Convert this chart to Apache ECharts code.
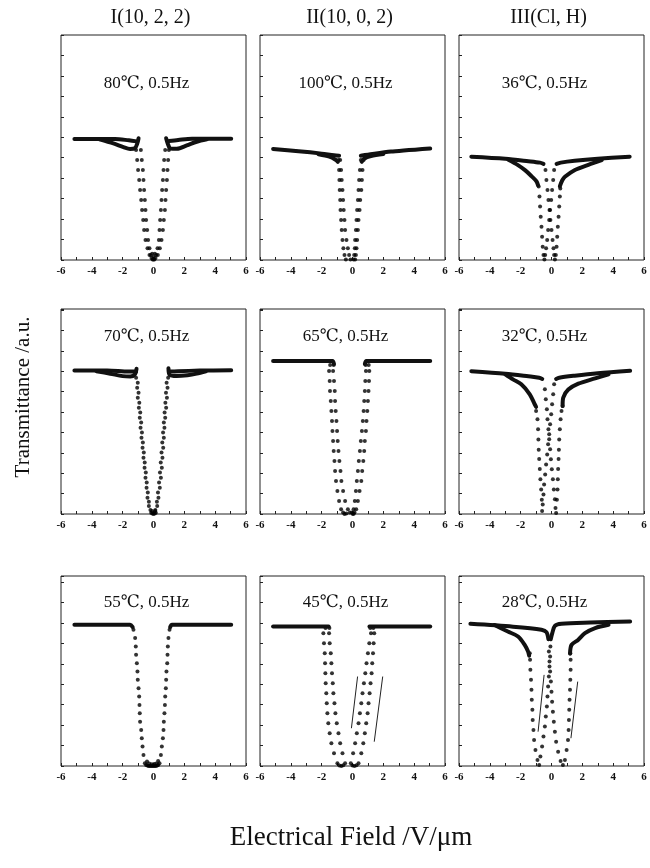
<!DOCTYPE html>
<html>
<head>
<meta charset="utf-8">
<script src="https://cdn.jsdelivr.net/npm/echarts@6/dist/echarts.min.js"></script>
<style>
html, body { margin: 0; padding: 0; background: #fff; }
#chart { width: 650px; height: 868px; }
</style>
</head>
<body>
<div id="chart"></div>
<script>
// Electro-optic switching loops: transmittance vs applied field, 0.5 Hz drive.
const fieldTicks = [-6, -4, -2, 0, 2, 4, 6];
const compoundTitles = ['I(10, 2, 2)', 'II(10, 0, 2)', 'III(Cl, H)'];
const panelConditions = [
  '80℃, 0.5Hz', '100℃, 0.5Hz', '36℃, 0.5Hz',
  '70℃, 0.5Hz', '65℃, 0.5Hz', '32℃, 0.5Hz',
  '55℃, 0.5Hz', '45℃, 0.5Hz', '28℃, 0.5Hz'
];
const xTitle = 'Electrical Field /V/μm';
const yTitle = 'Transmittance /a.u.';

// Each panel: saturated branches (dense, drawn as solid bands) and the
// switching region (sparse samples, drawn as dots). [field V/μm, transmittance a.u.]

// I(10,2,2) at 80 ℃
const I80_bands = [
  [[-5.13,5.92],[-2.5,5.92],[-1.6,5.85],[-1.1,5.8]],
  [[-3.5,5.9],[-2.6,5.7],[-1.95,5.52],[-1.52,5.43],[-1.2,5.47],[-1.05,5.7],[-0.97,5.95]],
  [[0.82,5.95],[0.92,5.7],[1.1,5.45],[1.52,5.44],[2.16,5.6],[2.8,5.78],[3.46,5.9]],
  [[1.0,5.82],[1.6,5.87],[2.5,5.93],[5.04,5.93]]
];
const I80_dots = [
  [-1.13,5.38],[-1.06,4.89],[-1.00,4.40],[-0.93,3.91],[-0.87,3.42],[-0.80,2.93],[-0.74,2.44],[-0.67,1.96],[-0.61,1.47],[-0.52,0.98],[-0.39,0.57],[-0.26,0.24],
  [-0.82,5.38],[-0.76,4.89],[-0.69,4.40],[-0.65,3.91],[-0.61,3.42],[-0.56,2.93],[-0.52,2.44],[-0.48,1.96],[-0.41,1.47],[-0.35,0.98],[-0.26,0.57],[-0.17,0.24],
  [-0.13,0.10],[-0.06,0.03],[0.00,0.02],[0.06,0.03],[0.13,0.10],[-0.09,0.30],[0.09,0.30],[0.00,0.15],
  [0.76,5.38],[0.69,4.89],[0.65,4.40],[0.61,3.91],[0.56,3.42],[0.52,2.93],[0.48,2.44],[0.43,1.96],[0.39,1.47],[0.35,0.98],[0.26,0.57],[0.17,0.24],
  [1.00,5.38],[0.95,4.89],[0.91,4.40],[0.87,3.91],[0.82,3.42],[0.78,2.93],[0.74,2.44],[0.67,1.96],[0.61,1.47],[0.52,0.98],[0.41,0.57],[0.28,0.24]
];

// II(10,0,2) at 100 ℃
const II100_bands = [
  [[-5.15,5.43],[-3.5,5.32],[-2.0,5.2],[-1.2,5.12],[-0.87,5.1]],
  [[-2.2,5.17],[-1.5,5.05],[-1.1,4.9],[-0.95,4.8]],
  [[0.6,4.8],[0.75,4.95],[1.2,5.08],[2.0,5.18]],
  [[0.54,5.1],[1.0,5.15],[2.5,5.3],[5.04,5.45]]
];
const II100_dots = [
  [-0.91,4.89],[-0.87,4.40],[-0.85,3.91],[-0.83,3.42],[-0.80,2.93],[-0.78,2.44],[-0.74,1.96],[-0.70,1.47],[-0.65,0.98],[-0.59,0.57],[-0.52,0.24],[-0.43,0.03],
  [-0.80,4.89],[-0.74,4.40],[-0.70,3.91],[-0.65,3.42],[-0.61,2.93],[-0.57,2.44],[-0.52,1.96],[-0.48,1.47],[-0.39,0.98],[-0.30,0.57],[-0.22,0.24],[-0.13,0.03],
  [0.54,4.89],[0.48,4.40],[0.43,3.91],[0.39,3.42],[0.35,2.93],[0.30,2.44],[0.26,1.96],[0.22,1.47],[0.17,0.98],[0.15,0.57],[0.11,0.24],[0.07,0.03],
  [0.72,4.89],[0.65,4.40],[0.61,3.91],[0.57,3.42],[0.50,2.93],[0.46,2.44],[0.39,1.96],[0.35,1.47],[0.30,0.98],[0.26,0.57],[0.22,0.24],[0.17,0.03]
];

// III(Cl,H) at 36 ℃
const III36_bands = [
  [[-5.2,5.05],[-3.0,4.95],[-1.5,4.83],[-0.75,4.76],[-0.52,4.7]],
  [[-2.8,4.9],[-2.2,4.65],[-1.7,4.38],[-1.3,4.1],[-0.98,3.85],[-0.87,3.65]],
  [[0.54,3.6],[0.7,3.9],[0.87,4.07],[1.52,4.4],[2.39,4.65],[3.26,4.88]],
  [[0.33,4.7],[0.6,4.76],[1.5,4.85],[3.0,4.95],[5.07,5.05]]
];
const III36_dots = [
  [0.17,4.40],[0.11,3.91],[0.04,3.42],[-0.02,2.93],[-0.09,2.44],[-0.15,1.96],[-0.22,1.47],[-0.28,0.98],[-0.35,0.57],[-0.41,0.24],[-0.46,0.03],
  [-0.52,0.24],[-0.57,0.65],[-0.61,1.14],[-0.65,1.63],[-0.70,2.12],[-0.74,2.61],[-0.78,3.10],[-0.83,3.59],
  [-0.39,4.40],[-0.33,3.91],[-0.26,3.42],[-0.20,2.93],[-0.13,2.44],[-0.07,1.96],[0.00,1.47],[0.07,0.98],[0.13,0.57],[0.17,0.24],[0.22,0.03],
  [0.28,0.24],[0.33,0.65],[0.37,1.14],[0.41,1.63],[0.46,2.12],[0.50,2.61],[0.54,3.10],[0.57,3.50]
];

// I(10,2,2) at 70 ℃
const I70_bands = [
  [[-5.13,7.03],[-3.0,7.03],[-1.6,6.98],[-1.13,6.98]],
  [[-3.7,7.0],[-2.8,6.88],[-2.0,6.76],[-1.5,6.74],[-1.2,6.85],[-1.1,7.12]],
  [[0.97,7.15],[1.05,6.82],[1.5,6.76],[2.2,6.8],[2.8,6.88],[3.4,7.0]],
  [[1.0,6.98],[1.6,7.0],[3.0,7.03],[5.04,7.05]]
];
const I70_dots = [
  [-1.13,6.68],[-1.06,6.19],[-1.02,5.70],[-0.95,5.21],[-0.89,4.72],[-0.84,4.23],[-0.78,3.74],[-0.71,3.25],[-0.65,2.76],[-0.58,2.27],[-0.52,1.78],[-0.45,1.29],[-0.39,0.80],[-0.30,0.39],
  [-1.02,6.44],[-0.97,5.95],[-0.92,5.46],[-0.86,4.97],[-0.80,4.48],[-0.75,3.99],[-0.69,3.50],[-0.63,3.01],[-0.57,2.52],[-0.50,2.03],[-0.44,1.54],[-0.37,1.05],[-0.30,0.60],[-0.20,0.20],
  [0.95,6.68],[0.91,6.19],[0.87,5.70],[0.82,5.21],[0.76,4.72],[0.71,4.23],[0.67,3.74],[0.63,3.25],[0.58,2.76],[0.54,2.27],[0.48,1.78],[0.41,1.29],[0.32,0.80],[0.24,0.39],
  [0.85,6.44],[0.81,5.95],[0.77,5.46],[0.72,4.97],[0.67,4.48],[0.62,3.99],[0.57,3.50],[0.52,3.01],[0.47,2.52],[0.42,2.03],[0.36,1.54],[0.29,1.05],[0.22,0.60],[0.12,0.20],
  [-0.15,0.06],[-0.08,0.02],[0.00,0.00],[0.08,0.02],[0.15,0.06],[-0.10,0.15],[0.10,0.15]
];

// II(10,0,2) at 65 ℃
const II65_bands = [
  [[-5.15,7.5],[-1.3,7.5],[-1.2,7.35]],
  [[0.8,7.35],[0.9,7.5],[5.04,7.5]]
];
const II65_dots = [
  [-1.52,7.01],[-1.48,6.52],[-1.46,6.03],[-1.41,5.54],[-1.37,5.05],[-1.33,4.56],[-1.30,4.07],[-1.26,3.58],[-1.22,3.09],[-1.17,2.60],[-1.13,2.11],[-1.07,1.62],[-0.98,1.13],[-0.87,0.64],[-0.74,0.23],[-0.61,0.07],
  [-1.26,7.01],[-1.20,6.52],[-1.15,6.03],[-1.13,5.54],[-1.09,5.05],[-1.04,4.56],[-1.00,4.07],[-0.96,3.58],[-0.91,3.09],[-0.85,2.60],[-0.78,2.11],[-0.72,1.62],[-0.61,1.13],[-0.48,0.64],[-0.30,0.23],[-0.17,0.07],
  [0.87,7.01],[0.83,6.52],[0.80,6.03],[0.76,5.54],[0.72,5.05],[0.67,4.56],[0.61,4.07],[0.54,3.58],[0.48,3.09],[0.41,2.60],[0.35,2.11],[0.28,1.62],[0.22,1.13],[0.15,0.64],[0.07,0.23],[-0.04,0.07],
  [1.09,7.01],[1.07,6.52],[1.04,6.03],[1.00,5.54],[0.96,5.05],[0.91,4.56],[0.87,4.07],[0.80,3.58],[0.76,3.09],[0.70,2.60],[0.63,2.11],[0.57,1.62],[0.46,1.13],[0.35,0.64],[0.24,0.23],[0.13,0.07],
  [-1.45,7.30],[-1.22,7.30],[0.85,7.30],[1.05,7.30],[-0.52,0.00],[-0.40,0.03],[0.02,0.00],[0.08,0.01]
];

// III(Cl,H) at 32 ℃
const III32_bands = [
  [[-5.2,7.0],[-3.0,6.88],[-1.5,6.75],[-0.8,6.68],[-0.6,6.62]],
  [[-3.0,6.85],[-2.5,6.6],[-1.96,6.36],[-1.41,5.87],[-1.09,5.38],[-1.0,5.25]],
  [[0.72,5.3],[0.76,5.7],[1.09,6.1],[1.74,6.39],[2.83,6.65],[3.7,6.85]],
  [[0.3,6.62],[0.5,6.68],[1.5,6.78],[3.0,6.9],[5.1,7.02]]
];
const III32_dots = [
  [0.17,6.36],[0.11,5.87],[0.04,5.38],[-0.02,4.89],[-0.09,4.40],[-0.15,3.91],[-0.22,3.42],[-0.28,2.92],[-0.35,2.43],[-0.41,1.94],[-0.48,1.45],[-0.52,0.96],[-0.57,0.47],[-0.61,0.15],
  [-0.63,0.70],[-0.67,1.20],[-0.72,1.70],[-0.76,2.20],[-0.80,2.70],[-0.83,3.15],[-0.85,3.65],[-0.87,4.15],[-0.91,4.65],[-1.00,5.05],
  [-0.43,6.12],[-0.37,5.62],[-0.30,5.13],[-0.26,4.65],[-0.20,4.15],[-0.15,3.66],[-0.09,3.17],[-0.04,2.68],[0.02,2.19],[0.09,1.70],[0.15,1.20],[0.22,0.72],[0.26,0.30],[0.30,0.05],
  [0.35,0.70],[0.39,1.20],[0.41,1.70],[0.43,2.20],[0.46,2.70],[0.48,3.15],[0.50,3.65],[0.54,4.15],[0.59,4.65],[0.65,5.05],[0.72,5.29]
];

// I(10,2,2) at 55 ℃
const I55_bands = [
  [[-5.13,6.91],[-1.52,6.91],[-1.35,6.8]],
  [[1.08,6.8],[1.2,6.91],[5.04,6.91]]
];
const I55_dots = [
  [-1.30,6.67],[-1.19,6.26],[-1.15,5.85],[-1.13,5.44],[-1.08,5.03],[-1.04,4.62],[-1.02,4.22],[-0.97,3.81],[-0.93,3.40],[-0.91,2.99],[-0.89,2.58],[-0.87,2.17],[-0.80,1.76],[-0.76,1.36],[-0.71,0.95],[-0.65,0.54],[-0.56,0.13],
  [1.04,6.67],[0.97,6.26],[0.93,5.85],[0.91,5.44],[0.89,5.03],[0.84,4.62],[0.82,4.22],[0.80,3.81],[0.76,3.40],[0.74,2.99],[0.71,2.58],[0.67,2.17],[0.65,1.76],[0.61,1.36],[0.54,0.95],[0.48,0.54],[0.39,0.13],
  [-0.48,0.05],[-0.40,0.02],[-0.32,0.00],[-0.24,0.00],[-0.16,0.00],[-0.08,0.00],[0.00,0.00],[0.08,0.00],[0.16,0.00],[0.24,0.02],[0.31,0.05],
  [-0.42,0.22],[-0.28,0.12],[-0.12,0.08],[0.04,0.10],[0.18,0.12],[0.30,0.25]
];

// II(10,0,2) at 45 ℃
const II45_bands = [
  [[-5.15,6.83],[-1.55,6.83]],
  [[1.1,6.83],[5.04,6.83]]
];
const II45_dots = [
  [-1.89,6.50],[-1.85,6.01],[-1.80,5.52],[-1.78,5.03],[-1.76,4.54],[-1.74,4.05],[-1.70,3.56],[-1.67,3.07],[-1.63,2.58],[-1.57,2.09],[-1.48,1.60],[-1.37,1.11],[-1.20,0.62],[-0.98,0.13],
  [-1.52,6.50],[-1.48,6.01],[-1.41,5.52],[-1.37,5.03],[-1.33,4.54],[-1.28,4.05],[-1.24,3.56],[-1.17,3.07],[-1.11,2.58],[-1.02,2.09],[-0.91,1.60],[-0.80,1.11],[-0.65,0.62],[-0.48,0.13],
  [1.20,6.50],[1.09,6.01],[1.00,5.52],[0.91,5.03],[0.83,4.54],[0.74,4.05],[0.65,3.56],[0.57,3.07],[0.48,2.58],[0.39,2.09],[0.28,1.60],[0.17,1.11],[0.04,0.62],[-0.11,0.13],
  [1.41,6.50],[1.37,6.01],[1.33,5.52],[1.28,5.03],[1.24,4.54],[1.17,4.05],[1.11,3.56],[1.04,3.07],[0.98,2.58],[0.89,2.09],[0.80,1.60],[0.70,1.11],[0.57,0.62],[0.39,0.13],
  [-1.75,6.75],[-1.50,6.75],[1.15,6.75],[1.35,6.75],[-0.85,0.02],[-0.72,0.00],[-0.60,0.04],[0.00,0.03],[0.13,0.00],[0.26,0.04]
];
const II45_arrows = [
  [[0.33,4.38],[-0.07,1.85]],
  [[1.41,1.19],[1.96,4.38]]
];

// III(Cl,H) at 28 ℃
const III28_bands = [
  [[-5.26,6.96],[-2.5,6.82],[-0.65,6.67],[-0.33,6.55],[-0.2,6.2]],
  [[-3.7,6.9],[-2.83,6.58],[-2.17,6.34],[-1.74,5.93],[-1.52,5.6],[-1.45,5.4]],
  [[1.2,5.5],[1.3,5.93],[1.74,6.18],[2.17,6.5],[2.83,6.75],[3.7,6.91]],
  [[-0.05,6.2],[0.05,6.5],[0.22,6.86],[0.65,6.96],[2.5,7.02],[5.1,7.07]]
];
const III28_dots = [
  [-0.07,5.85],[-0.09,5.36],[-0.13,4.87],[-0.17,4.38],[-0.22,3.89],[-0.26,3.40],[-0.30,2.91],[-0.37,2.42],[-0.43,1.93],[-0.52,1.44],[-0.61,0.95],[-0.72,0.46],[-0.80,0.05],
  [-0.17,5.60],[-0.13,5.11],[-0.09,4.62],[-0.04,4.13],[0.00,3.64],[0.04,3.15],[0.09,2.66],[0.15,2.17],[0.22,1.68],[0.30,1.19],[0.43,0.70],[0.59,0.25],[0.74,0.05],
  [-0.91,0.29],[-1.04,0.78],[-1.13,1.27],[-1.17,1.76],[-1.22,2.25],[-1.24,2.75],[-1.28,3.24],[-1.30,3.73],[-1.33,4.22],[-1.37,4.71],[-1.39,5.20],[-1.41,5.52],
  [0.87,0.29],[0.98,0.78],[1.07,1.27],[1.11,1.76],[1.13,2.25],[1.15,2.75],[1.17,3.24],[1.20,3.73],[1.22,4.22],[1.24,4.71],[1.24,5.20],[1.22,5.52]
];
const III28_arrows = [
  [[-0.48,4.46],[-0.87,1.68]],
  [[1.26,1.36],[1.70,4.13]]
];

const panels = [
  { bands: I80_bands,   dots: I80_dots,   arrows: [] },
  { bands: II100_bands, dots: II100_dots, arrows: [] },
  { bands: III36_bands, dots: III36_dots, arrows: [] },
  { bands: I70_bands,   dots: I70_dots,   arrows: [] },
  { bands: II65_bands,  dots: II65_dots,  arrows: [] },
  { bands: III32_bands, dots: III32_dots, arrows: [] },
  { bands: I55_bands,   dots: I55_dots,   arrows: [] },
  { bands: II45_bands,  dots: II45_dots,  arrows: II45_arrows },
  { bands: III28_bands, dots: III28_dots, arrows: III28_arrows }
];

// Layout of the 3 x 3 panel grid (pixels)
const colLeft = [61, 260, 459];
const colWidth = 185;
const rowTop = [35, 309, 576];
const rowHeight = [225, 205, 190];
const rowMaxT = [11, 10.05, 9.3];
const labelY = [84, 337, 603];

const serif = '"Liberation Serif", "DejaVu Serif", serif';
const ink = '#000';

const grids = [], xAxes = [], yAxes = [], series = [];

panels.forEach((p, i) => {
  const r = Math.floor(i / 3), c = i % 3;
  grids.push({
    left: colLeft[c], top: rowTop[r], width: colWidth, height: rowHeight[r],
    show: true, borderColor: '#222', borderWidth: 1, backgroundColor: 'transparent'
  });
  xAxes.push({
    gridIndex: i, type: 'value', min: -6, max: 6, interval: 1,
    axisLine: { show: false, onZero: false },
    splitLine: { show: false },
    axisTick: { show: true, inside: true, length: 3, lineStyle: { color: '#222', width: 1 } },
    axisLabel: {
      show: true, margin: 6, fontSize: 11, fontWeight: 'bold', fontFamily: serif, color: '#111',
      formatter: v => (fieldTicks.indexOf(v) >= 0 ? String(v) : '')
    }
  });
  yAxes.push({
    gridIndex: i, type: 'value', min: 0, max: rowMaxT[r], interval: 1,
    axisLine: { show: false, onZero: false },
    splitLine: { show: false },
    axisTick: { show: true, inside: true, length: 3, lineStyle: { color: '#222', width: 1 } },
    axisLabel: { show: false }
  });
  p.bands.forEach(b => {
    series.push({
      type: 'line', xAxisIndex: i, yAxisIndex: i, data: b,
      symbol: 'none', smooth: 0.3, silent: true,
      lineStyle: { width: 4, color: '#111', cap: 'round', join: 'round' }
    });
  });
  const dotSeries = {
    type: 'scatter', xAxisIndex: i, yAxisIndex: i, data: p.dots,
    symbol: 'circle', symbolSize: 4, silent: true,
    itemStyle: { color: ink }
  };
  if (p.arrows.length) {
    dotSeries.markLine = {
      silent: true, animation: false,
      symbol: ['none', 'arrow'], symbolSize: [0, 6],
      label: { show: false },
      lineStyle: { type: 'solid', color: '#222', width: 1 },
      data: p.arrows.map(a => [{ coord: a[0] }, { coord: a[1] }])
    };
  }
  series.push(dotSeries);
});

const graphics = [];
compoundTitles.forEach((t, c) => {
  graphics.push({
    type: 'text', x: colLeft[c] + colWidth / 2 - 3, y: 18,
    style: { text: t, font: '20px ' + serif, fill: '#111', align: 'center', verticalAlign: 'middle' }
  });
});
panelConditions.forEach((t, i) => {
  const r = Math.floor(i / 3), c = i % 3;
  graphics.push({
    type: 'text', x: colLeft[c] + colWidth / 2 - 7, y: labelY[r],
    style: { text: t, font: '17px ' + serif, fill: '#111', align: 'center', verticalAlign: 'middle' }
  });
});
graphics.push({
  type: 'text', x: 23, y: 397, rotation: Math.PI / 2,
  style: { text: yTitle, font: '21px ' + serif, fill: '#111', align: 'center', verticalAlign: 'middle' }
});
graphics.push({
  type: 'text', x: 351, y: 838,
  style: { text: xTitle, font: '27px ' + serif, fill: '#111', align: 'center', verticalAlign: 'middle' }
});

const chart = echarts.init(document.getElementById('chart'), null, { renderer: 'canvas' });
chart.setOption({
  animation: false,
  backgroundColor: '#fff',
  grid: grids,
  xAxis: xAxes,
  yAxis: yAxes,
  series: series,
  graphic: graphics
});
</script>
</body>
</html>
